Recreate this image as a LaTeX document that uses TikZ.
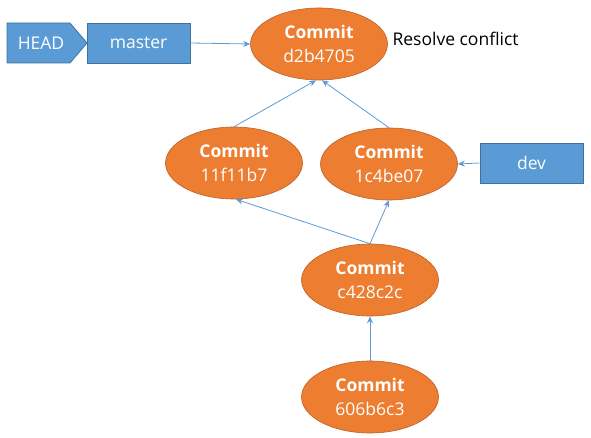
\documentclass[tikz,border=0pt]{standalone}
\usepackage{fontspec}
\setmainfont{Open Sans}
\usetikzlibrary{shapes.geometric,arrows.meta}
\definecolor{corange}{HTML}{ED7D31}
\definecolor{corangeb}{HTML}{B9612A}
\definecolor{cblue}{HTML}{5B9BD5}
\definecolor{cblueb}{HTML}{41719C}
\tikzset{
  lbl/.style={font=\fontsize{17.5}{21}\selectfont},
  commit/.style={lbl, ellipse, fill=corange, draw=corangeb, line width=0.6pt, minimum width=137pt, minimum height=72pt, inner sep=0pt, text=white, align=center},
  ref/.style={lbl, rectangle, fill=cblue, draw=cblueb, line width=0.8pt, minimum width=103pt, minimum height=40pt, inner sep=0pt, text=white},
  conn/.style={draw=cblue, line width=0.8pt, -{Stealth[length=7pt,width=6pt]}},
}
\begin{document}
\begin{tikzpicture}[x=1pt,y=-1pt]
\useasboundingbox (0,0) rectangle (591,438);
\draw[fill=cblue, draw=cblueb, line width=0.8pt] (7,23) -- (70,23) -- (87,43) -- (70,63) -- (7,63) -- cycle;
\node[lbl, text=white] (head) at (41,43) {HEAD};
\node[ref] (master) at (138.5,43) {master};
\node[commit] (d2b) at (319,44) {\textbf{Commit}\\[3pt]d2b4705};
\node[lbl, anchor=west] (rc) at (389,39) {Resolve conflict};
\node[commit] (c11) at (234,163) {\textbf{Commit}\\[3pt]11f11b7};
\node[commit] (c1c) at (389,164) {\textbf{Commit}\\[3pt]1c4be07};
\node[ref] (dev) at (531.5,163) {dev};
\node[commit] (c42) at (370,280) {\textbf{Commit}\\[3pt]c428c2c};
\node[commit] (c60) at (370,397) {\textbf{Commit}\\[3pt]606b6c3};
\draw[conn] (master.east) -- (d2b.west);
\draw[conn] (c11.north) -- ([xshift=-3pt]d2b.south);
\draw[conn] (c1c.north) -- ([xshift=3pt]d2b.south);
\draw[conn] (dev.west) -- (c1c.east);
\draw[conn] (c42.north) -- ([xshift=2pt]c11.south);
\draw[conn] (c42.north) -- (c1c.south);
\draw[conn] (c60.north) -- (c42.south);
\end{tikzpicture}
\end{document}
